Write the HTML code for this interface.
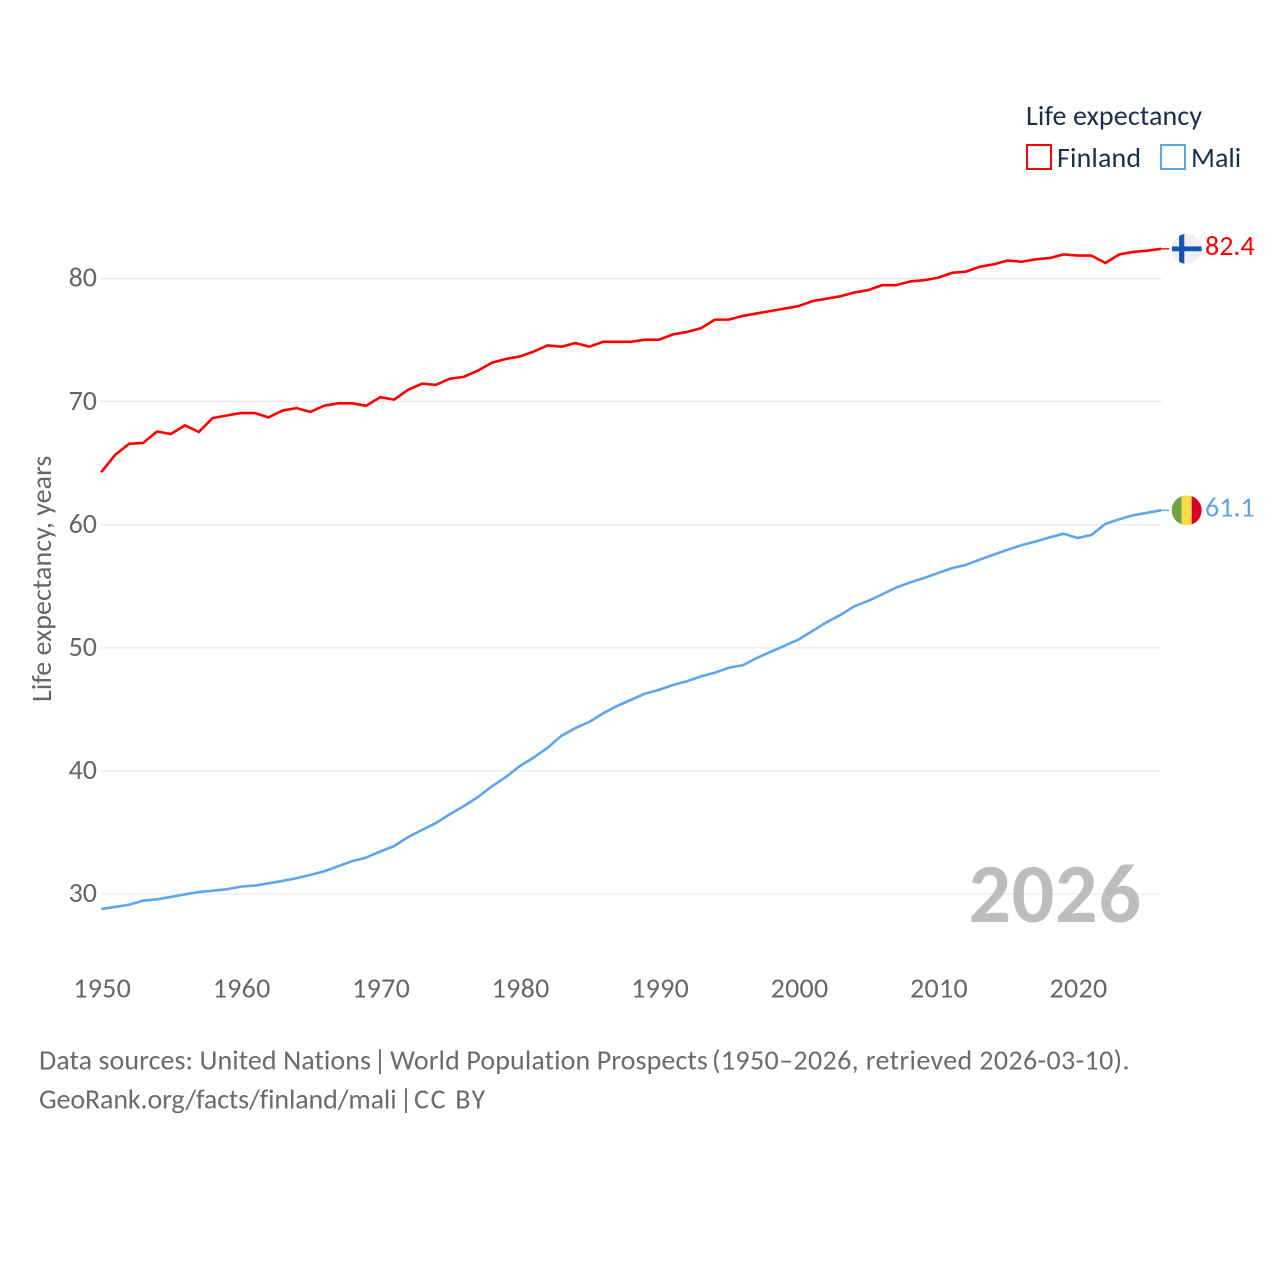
<!DOCTYPE html>
<html lang="en">
<head>
<meta charset="utf-8">
<title>Life expectancy: Finland and Mali</title>
<style>
html,body{margin:0;padding:0;background:#fff;}
svg{display:block;font-family:"Carlito","Lato","Liberation Sans",sans-serif;font-variant-ligatures:none;font-feature-settings:"liga" 0,"clig" 0;}
</style>
</head>
<body>
<svg id="chart" xmlns="http://www.w3.org/2000/svg" width="1280" height="1280" viewBox="0 0 1280 1280">
  <rect x="0" y="0" width="1280" height="1280" fill="#ffffff"/>
  <g id="grid"></g>
  <g id="yticks"></g>
  <g id="xticks"></g>
  <text transform="translate(51,702) rotate(-90)" font-size="28" fill="#666666" letter-spacing="0.05">Life expectancy, years</text>
  <text x="968.5" y="922" font-size="84" font-weight="700" fill="#bdbdbd" letter-spacing="0.7">2026</text>
  <g id="series"></g>
  <g id="ends"></g>

  <g>
    <text x="1026" y="125" font-size="28" fill="#1a2f4f" letter-spacing="0.14">Life expectancy</text>
    <rect x="1027" y="145" width="24" height="24" fill="none" stroke="#ff0000" stroke-width="2"/>
    <text x="1057" y="167" font-size="28" fill="#1a2f4f" letter-spacing="0.14">Finland</text>
    <rect x="1161" y="145" width="24" height="24" fill="none" stroke="#5fa5ee" stroke-width="2"/>
    <text x="1191" y="167" font-size="28" fill="#1a2f4f">Mali</text>
  </g>

  <g font-size="28" fill="#6b6b6b">
    <text y="1069.5"><tspan x="39" letter-spacing="0.07">Data sources: United Nations</tspan> <tspan x="373.5">|</tspan> <tspan x="390" letter-spacing="0.1">World Population Prospects</tspan> <tspan x="712" letter-spacing="0.37">(1950–2026, retrieved 2026-03-10).</tspan></text>
    <text y="1108.5"><tspan x="39" letter-spacing="-0.13">GeoRank.org/facts/finland/mali</tspan> <tspan x="399.5">|</tspan> <tspan x="414" letter-spacing="1.7">CC BY</tspan></text>
  </g>

  <defs>
    <clipPath id="flag-clip"><circle cx="0" cy="0" r="15"/></clipPath>
  </defs>
</svg>
<script>
var years = [1950,1951,1952,1953,1954,1955,1956,1957,1958,1959,1960,1961,1962,1963,1964,1965,1966,1967,1968,1969,1970,1971,1972,1973,1974,1975,1976,1977,1978,1979,1980,1981,1982,1983,1984,1985,1986,1987,1988,1989,1990,1991,1992,1993,1994,1995,1996,1997,1998,1999,2000,2001,2002,2003,2004,2005,2006,2007,2008,2009,2010,2011,2012,2013,2014,2015,2016,2017,2018,2019,2020,2021,2022,2023,2024,2025,2026];
var finland = [64.27,65.67,66.57,66.64,67.57,67.37,68.07,67.53,68.67,68.87,69.07,69.07,68.72,69.27,69.47,69.17,69.67,69.86,69.86,69.66,70.36,70.16,70.96,71.46,71.36,71.86,72.01,72.51,73.16,73.46,73.66,74.06,74.56,74.46,74.76,74.46,74.86,74.86,74.86,75.03,75.03,75.46,75.66,75.96,76.66,76.66,76.96,77.16,77.36,77.56,77.76,78.16,78.36,78.56,78.86,79.06,79.46,79.46,79.76,79.86,80.06,80.46,80.56,80.96,81.16,81.46,81.36,81.56,81.66,81.96,81.86,81.86,81.26,81.96,82.16,82.26,82.41];
var mali = [28.78,28.95,29.13,29.46,29.57,29.76,29.97,30.16,30.27,30.38,30.6,30.68,30.87,31.06,31.28,31.55,31.85,32.26,32.67,32.96,33.45,33.89,34.62,35.2,35.76,36.49,37.14,37.87,38.74,39.49,40.38,41.08,41.88,42.85,43.48,43.98,44.68,45.28,45.78,46.28,46.58,46.98,47.28,47.68,47.98,48.38,48.58,49.17,49.67,50.17,50.67,51.37,52.07,52.67,53.37,53.82,54.34,54.9,55.31,55.67,56.07,56.47,56.74,57.17,57.57,57.97,58.34,58.64,58.97,59.27,58.92,59.17,60.07,60.44,60.77,60.97,61.17];
var yTickValues = [30,40,50,60,70,80];
var xTickValues = [1950,1960,1970,1980,1990,2000,2010,2020];
var finlandEndLabel = "82.4";
var maliEndLabel = "61.1";

var NS = "http://www.w3.org/2000/svg";
var FIN_RED = "#ff0000";
var MALI_BLUE = "#5fa5ee";
function xScale(year){ return 101.2 + (year - 1950) * 1060 / 76; }
function yScale(v){ return 894 - (v - 30) * 12.31; }
function make(tag, attrs, parent){
  var el = document.createElementNS(NS, tag);
  for (var k in attrs) { el.setAttribute(k, attrs[k]); }
  parent.appendChild(el);
  return el;
}

var grid = document.getElementById("grid");
var yticks = document.getElementById("yticks");
var xticks = document.getElementById("xticks");
var seriesGroup = document.getElementById("series");
var endsGroup = document.getElementById("ends");

yTickValues.forEach(function(v){
  var line = make("line", {x1:101, x2:1161.5, y1:yScale(v), y2:yScale(v), stroke:"#eeeeee", "stroke-width":1.6}, grid);
  
  
  var t = make("text", {x:97, y:yScale(v)+8.2, "text-anchor":"end", "font-size":28, fill:"#666666"}, yticks);
  
  
  t.textContent = String(v);
});

xTickValues.forEach(function(y){
  var t = make("text", {x:xScale(y)+1, y:997.5, "text-anchor":"middle", "font-size":28, fill:"#666666", "letter-spacing":0.3}, xticks);
  
  
  t.textContent = String(y);
});

function drawLine(values, color){
  var d = values.map(function(v, i){
    return (i ? "L" : "M") + xScale(years[i]).toFixed(2) + " " + yScale(v).toFixed(2);
  }).join(" ");
  return make("path", {d:d, fill:"none", stroke:color, "stroke-width":2.6, "stroke-linejoin":"round"}, seriesGroup);
}
var finlandLine = drawLine(finland, FIN_RED);


var maliLine = drawLine(mali, MALI_BLUE);



function drawConnector(values, color){
  var endY = yScale(values[values.length - 1]);
  var endX = xScale(years[years.length - 1]);
  return make("line", {x1:endX, x2:endX + 8, y1:endY, y2:endY, stroke:color, "stroke-width":1.4}, endsGroup);
}
var finlandConnector = drawConnector(finland, FIN_RED);


var maliConnector = drawConnector(mali, MALI_BLUE);



function flagGroup(values){
  var cy = yScale(values[values.length - 1]);
  return make("g", {transform:"translate(1186.7," + cy.toFixed(2) + ")", "clip-path":"url(#flag-clip)"}, endsGroup);
}

var finFlag = flagGroup(finland);


make("rect", {x:-15, y:-15, width:30, height:30, fill:"#f0f0f0"}, finFlag);
make("rect", {x:-7.6, y:-15, width:5.2, height:30, fill:"#0f57b2"}, finFlag);
make("rect", {x:-15, y:-2.4, width:30, height:4.8, fill:"#0f57b2"}, finFlag);

var maliFlag = flagGroup(mali);


make("rect", {x:-15, y:-15, width:10, height:30, fill:"#6da544"}, maliFlag);
make("rect", {x:-5, y:-15, width:10, height:30, fill:"#ffda44"}, maliFlag);
make("rect", {x:5, y:-15, width:10, height:30, fill:"#d80027"}, maliFlag);

function endLabel(values, text, color){
  var t = make("text", {x:1205, y:yScale(values[values.length - 1]) + 6, "font-size":28, fill:color}, endsGroup);
  t.textContent = text;
  return t;
}
var finLabel = endLabel(finland, finlandEndLabel, FIN_RED);


var maliLabel = endLabel(mali, maliEndLabel, MALI_BLUE);


</script>
</body>
</html>
